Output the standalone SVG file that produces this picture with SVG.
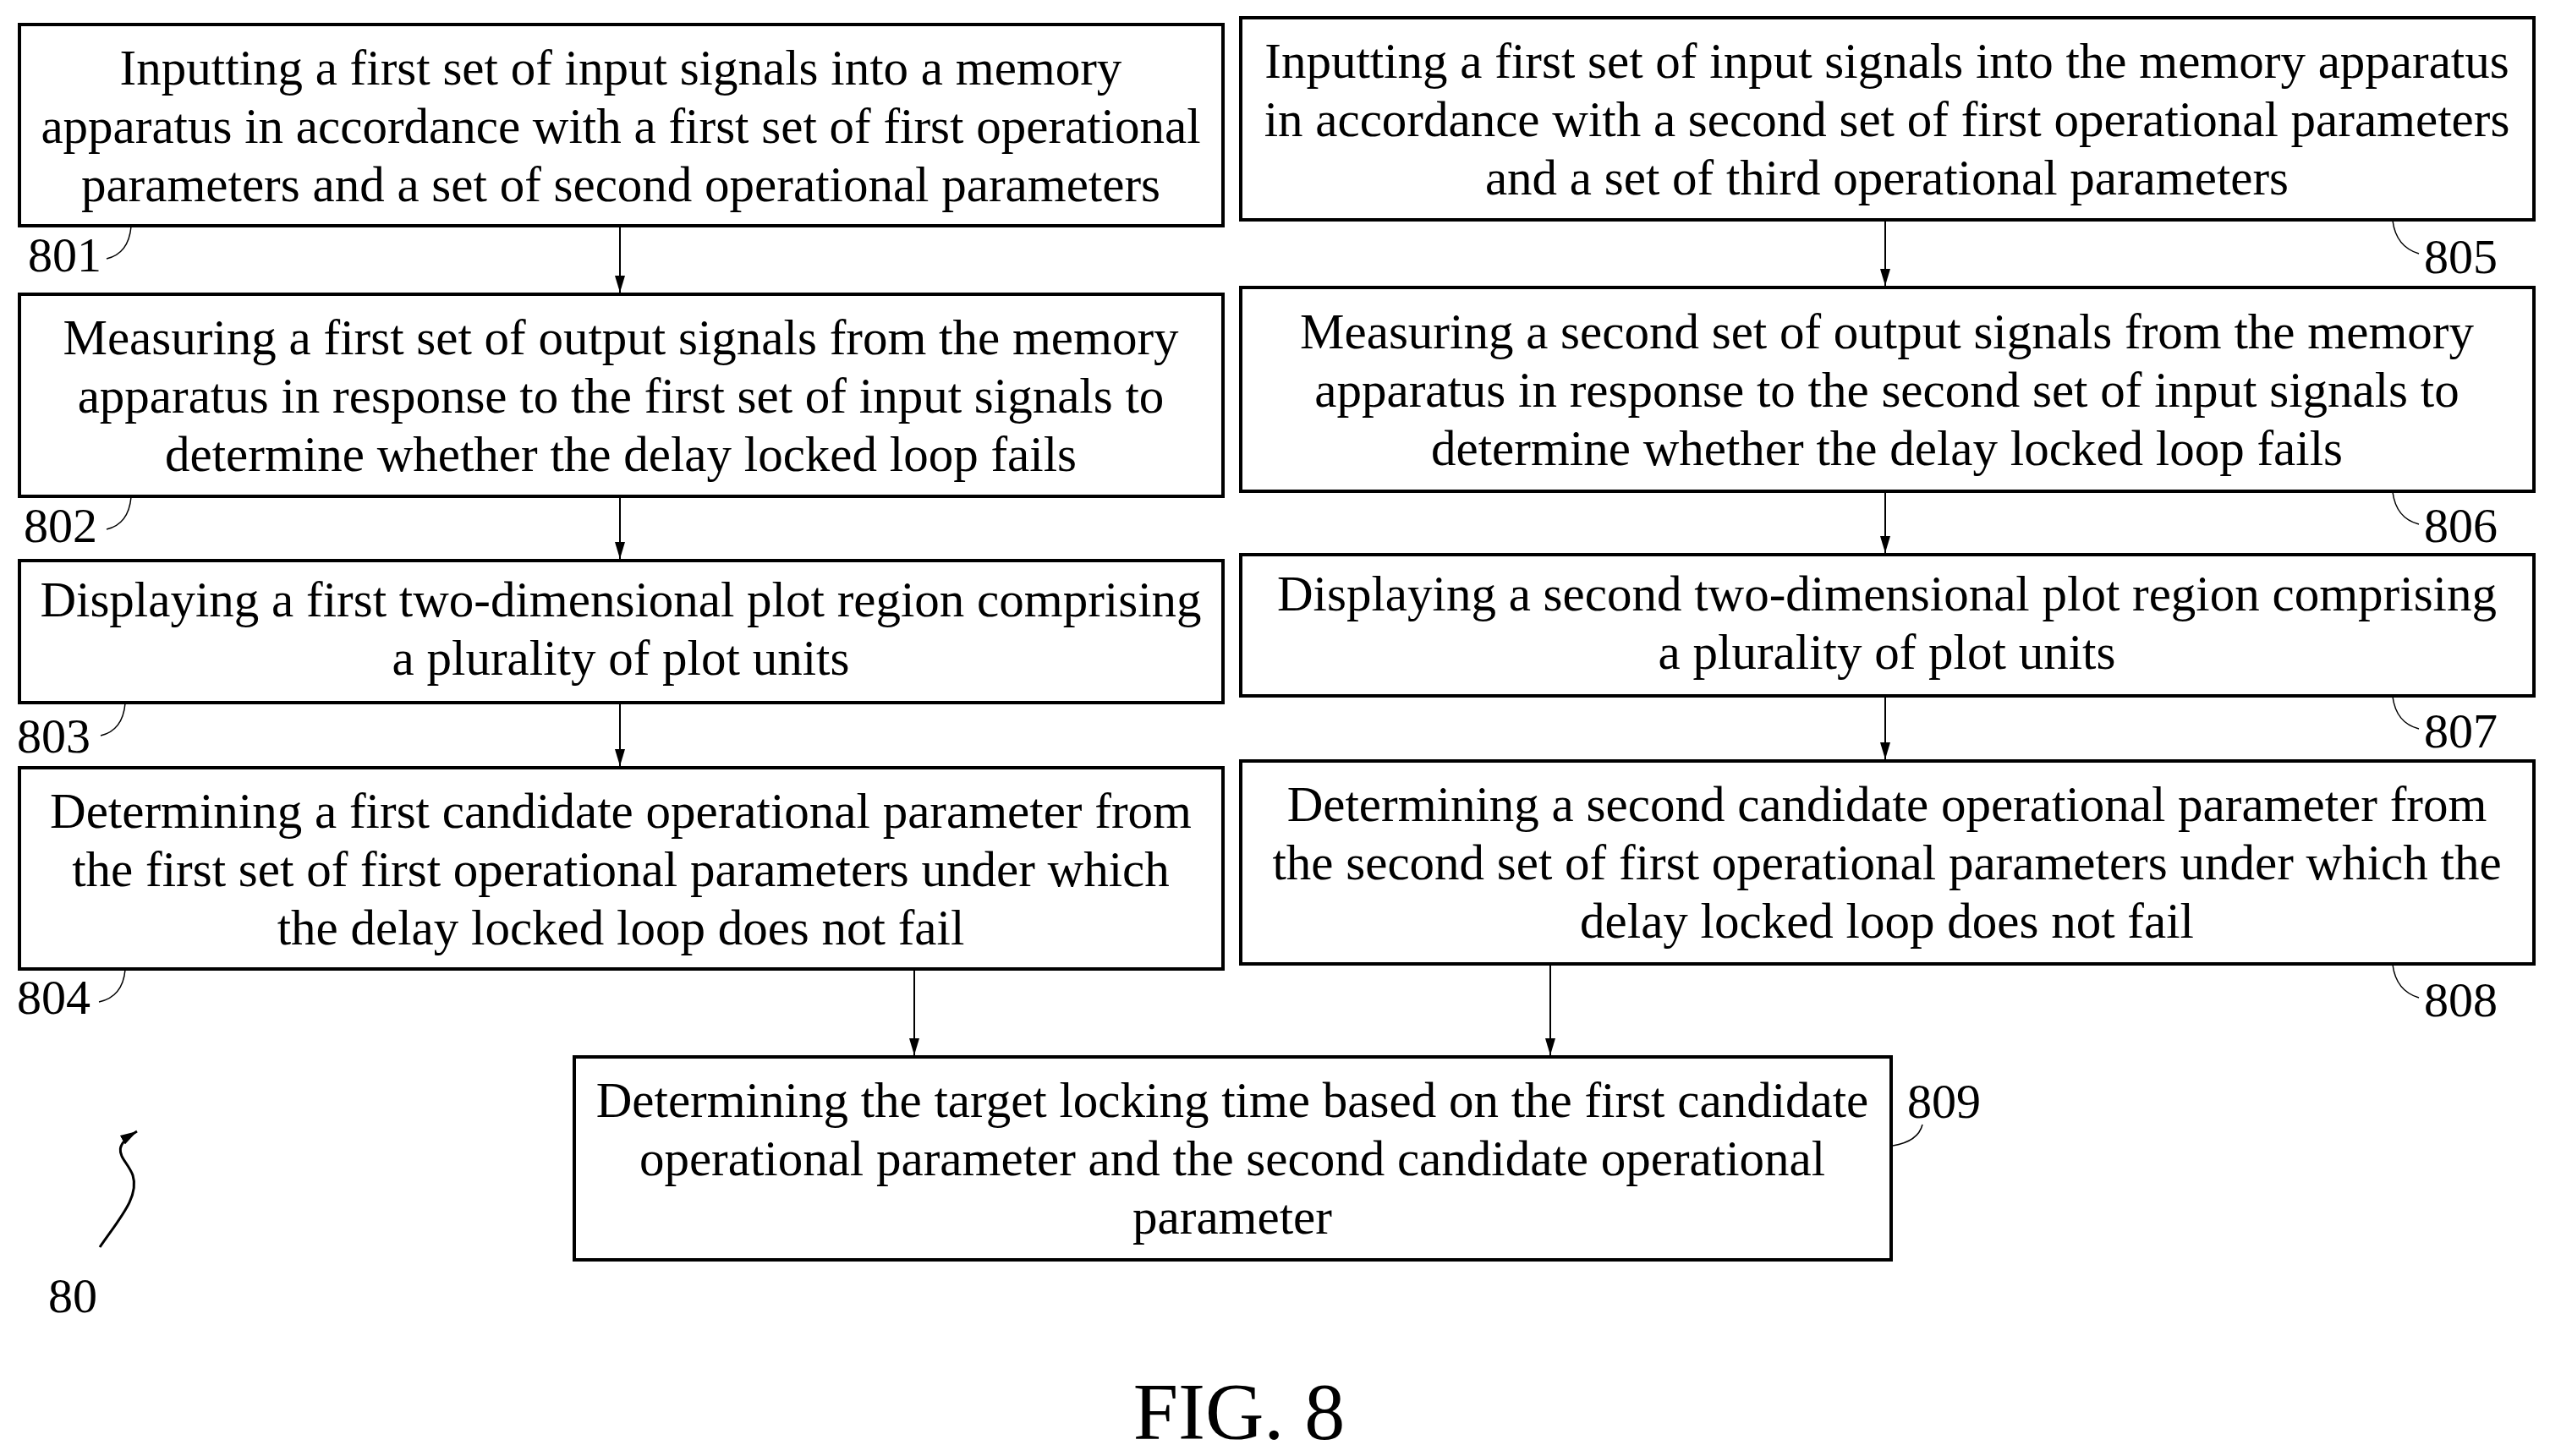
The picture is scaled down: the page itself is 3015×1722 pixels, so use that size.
<svg xmlns="http://www.w3.org/2000/svg" width="3015" height="1722" viewBox="0 0 3015 1722">
<style>
.b{fill:#fff;stroke:#000;stroke-width:4}
text{font-family:"Liberation Serif","Times New Roman",serif;font-size:58px;fill:#000}
.t{text-anchor:middle;font-size:59px}
.c{fill:none;stroke:#000;stroke-width:2}
.l{fill:none;stroke:#000;stroke-width:1.5}
</style>
<defs>
<marker id="d" markerWidth="20" markerHeight="12" refX="20" refY="6" orient="auto" markerUnits="userSpaceOnUse"><path d="M0,0 L20,6 L0,12 Z"/></marker></defs>
<rect width="3015" height="1722" fill="#fff"/>
<g id="n801"><rect class="b" x="23" y="29" width="1423" height="238"/>
<text class="t" x="734" y="100">Inputting a first set of input signals into a memory</text>
<text class="t" x="734" y="169">apparatus in accordance with a first set of first operational</text>
<text class="t" x="734" y="238">parameters and a set of second operational parameters</text>
<path class="l" d="M155,268 Q152,300 126,306"/><text x="33" y="321">801</text></g>
<g id="n802"><rect class="b" x="23" y="348" width="1423" height="239"/>
<text class="t" x="734" y="419">Measuring a first set of output signals from the memory</text>
<text class="t" x="734" y="488">apparatus in response to the first set of input signals to</text>
<text class="t" x="734" y="557">determine whether the delay locked loop fails</text>
<path class="l" d="M155,588 Q152,620 126,626"/><text x="28" y="641">802</text></g>
<g id="n803"><rect class="b" x="23" y="663" width="1423" height="168"/>
<text class="t" x="734" y="729">Displaying a first two-dimensional plot region comprising</text>
<text class="t" x="734" y="798">a plurality of plot units</text>
<path class="l" d="M148,832 Q145,864 119,870"/><text x="20" y="890">803</text></g>
<g id="n804"><rect class="b" x="23" y="908" width="1423" height="238"/>
<text class="t" x="734" y="979">Determining a first candidate operational parameter from</text>
<text class="t" x="734" y="1048">the first set of first operational parameters under which</text>
<text class="t" x="734" y="1117">the delay locked loop does not fail</text>
<path class="l" d="M148,1147 Q145,1179 117,1185"/><text x="20" y="1199">804</text></g>
<g id="n805"><rect class="b" x="1467" y="21" width="1529" height="239"/>
<text class="t" x="2231" y="92">Inputting a first set of input signals into the memory apparatus</text>
<text class="t" x="2231" y="161">in accordance with a second set of first operational parameters</text>
<text class="t" x="2231" y="230">and a set of third operational parameters</text>
<path class="l" d="M2829,261 Q2833,292 2860,300"/><text x="2866" y="323">805</text></g>
<g id="n806"><rect class="b" x="1467" y="340" width="1529" height="241"/>
<text class="t" x="2231" y="412">Measuring a second set of output signals from the memory</text>
<text class="t" x="2231" y="481">apparatus in response to the second set of input signals to</text>
<text class="t" x="2231" y="550">determine whether the delay locked loop fails</text>
<path class="l" d="M2829,582 Q2833,613 2860,620"/><text x="2866" y="641">806</text></g>
<g id="n807"><rect class="b" x="1467" y="656" width="1529" height="167"/>
<text class="t" x="2231" y="722">Displaying a second two-dimensional plot region comprising</text>
<text class="t" x="2231" y="791">a plurality of plot units</text>
<path class="l" d="M2829,824 Q2833,855 2860,862"/><text x="2866" y="884">807</text></g>
<g id="n808"><rect class="b" x="1467" y="900" width="1529" height="240"/>
<text class="t" x="2231" y="971">Determining a second candidate operational parameter from</text>
<text class="t" x="2231" y="1040">the second set of first operational parameters under which the</text>
<text class="t" x="2231" y="1109">delay locked loop does not fail</text>
<path class="l" d="M2829,1141 Q2833,1172 2860,1180"/><text x="2866" y="1202">808</text></g>
<g id="n809"><rect class="b" x="679" y="1250" width="1557" height="240"/>
<text class="t" x="1457" y="1321">Determining the target locking time based on the first candidate</text>
<text class="t" x="1457" y="1390">operational parameter and the second candidate operational</text>
<text class="t" x="1457" y="1459">parameter</text>
<path class="l" d="M2238,1355 Q2268,1350 2273,1330"/><text x="2255" y="1322">809</text></g>
<g id="connectors">
<line class="c" x1="733" y1="269" x2="733" y2="346" marker-end="url(#d)"/>
<line class="c" x1="733" y1="589" x2="733" y2="661" marker-end="url(#d)"/>
<line class="c" x1="733" y1="833" x2="733" y2="906" marker-end="url(#d)"/>
<line class="c" x1="2229" y1="262" x2="2229" y2="338" marker-end="url(#d)"/>
<line class="c" x1="2229" y1="583" x2="2229" y2="654" marker-end="url(#d)"/>
<line class="c" x1="2229" y1="825" x2="2229" y2="898" marker-end="url(#d)"/>
<line class="c" x1="1081" y1="1148" x2="1081" y2="1248" marker-end="url(#d)"/>
<line class="c" x1="1833" y1="1142" x2="1833" y2="1248" marker-end="url(#d)"/>
</g>
<g id="ref80">
<path d="M118,1475 C142,1440 165,1415 157,1390 C150,1370 125,1360 162,1338" fill="none" stroke="#000" stroke-width="3" marker-end="url(#d)"/>
<text x="57" y="1552">80</text></g>
<text class="t" x="1465" y="1702" style="font-size:96px">FIG. 8</text>
</svg>
